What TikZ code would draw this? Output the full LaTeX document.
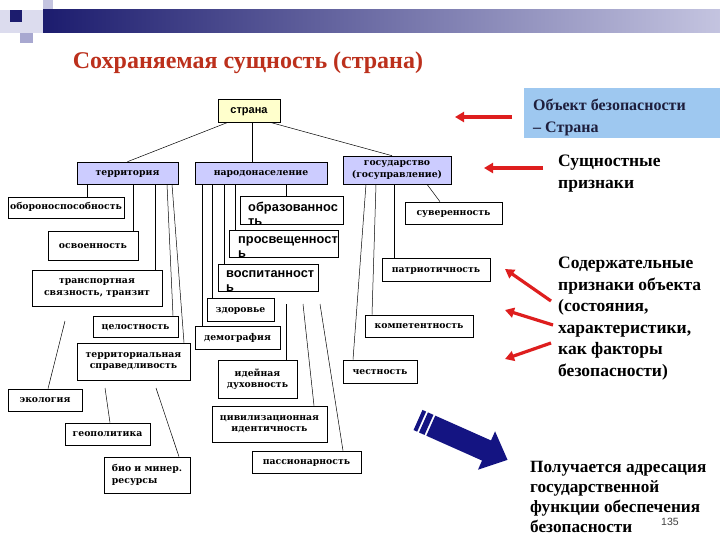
\documentclass[tikz,border=0pt]{standalone}
\usepackage{fontspec}
\setmainfont{Liberation Serif}
\newfontfamily\arialf{Liberation Sans}
\newfontfamily\boxf{DejaVu Serif}
\usetikzlibrary{arrows.meta,calc}
\definecolor{lavblue}{RGB}{204,204,255}
\definecolor{paleyellow}{RGB}{255,255,204}
\definecolor{skyfill}{RGB}{158,200,240}
\definecolor{arrred}{RGB}{222,30,30}
\definecolor{titlered}{RGB}{188,48,28}
\definecolor{navyarr}{RGB}{20,20,130}
\definecolor{headnavy}{RGB}{28,28,110}
\definecolor{headlight}{RGB}{196,196,224}
\definecolor{sqlight}{RGB}{220,220,238}
\definecolor{sqmid}{RGB}{168,168,208}
\definecolor{objtext}{RGB}{30,30,60}
\begin{document}
\begin{tikzpicture}[x=1pt,y=-1pt,
  box/.style={draw=black, line width=0.6pt, fill=white, inner sep=0pt, align=center,
    font=\boxf\bfseries\fontsize{9.3}{11.5}\selectfont},
  sl/.style={text height=5pt, text depth=0pt},
  lav/.style={box, fill=lavblue},
  ylw/.style={box, fill=paleyellow, font=\arialf\bfseries\fontsize{11}{13}\selectfont},
  ovt/.style={inner sep=0pt, align=left, anchor=north west,
    font=\arialf\bfseries\fontsize{12.8}{14}\selectfont},
  conn/.style={line width=0.5pt},
  redarr/.style={draw=arrred, line width=3.2pt, -{Triangle[length=9pt,width=10pt]}},
  sidetxt/.style={inner sep=0pt, align=left, anchor=north west,
    font=\bfseries\fontsize{17.5}{21.5}\selectfont},
  restxt/.style={inner sep=0pt, anchor=base west, font=\bfseries\fontsize{17.2}{20}\selectfont}
]
\useasboundingbox (0,0) rectangle (720,540);
\fill[white] (0,0) rectangle (720,540);

% header decoration
\fill[sqlight] (0,10) rectangle (43,33);
\fill[headlight] (43,0) rectangle (53,10);
\fill[sqmid] (20,33) rectangle (33,43);
\fill[headnavy] (10,10) rectangle (22,22);
\shade[left color=headnavy, right color=headlight] (43,10) rectangle (720,33);

% title
\node[font=\bfseries\fontsize{24}{28}\selectfont, text=titlered] (title) at (248,63)
  {Сохраняемая сущность (страна)};

% tree: top
\node[ylw, sl, text height=6.5pt, minimum width=62pt, minimum height=23pt] (strana) at (249,110.5) {страна};
\node[lav, sl, minimum width=101pt, minimum height=22pt] (terr) at (127.5,173) {территория};
\node[lav, sl, minimum width=132pt, minimum height=22pt] (narod) at (261,173) {народонаселение};
\node[lav, minimum width=108pt, minimum height=28pt] (gos) at (397,170) {государство\\(госуправление)};

% under territory
\node[box, sl, minimum width=116pt, minimum height=21pt] (oboron) at (66,207.5) {обороноспособность};
\node[box, sl, minimum width=90pt, minimum height=29pt] (osvoen) at (93,246) {освоенность};
\node[box, minimum width=130pt, minimum height=36pt] (transp) at (97,288) {транспортная\\связность, транзит};
\node[box, sl, minimum width=85pt, minimum height=21pt] (celost) at (135.5,326.5) {целостность};
\node[box, minimum width=113pt, minimum height=37pt] (terrspr) at (133.5,361.5) {территориальная\\справедливость};
\node[box, sl, minimum width=74pt, minimum height=22pt] (ekol) at (45,400) {экология};
\node[box, sl, minimum width=85pt, minimum height=22pt] (geopol) at (107.5,434) {геополитика};
\node[box, minimum width=86pt, minimum height=36pt, align=left] (bio) at (147,475) {био и минер.\\ресурсы};

% under population
\node[box, minimum width=103pt, minimum height=28pt] (obraz) at (291.5,210) {};
\node[ovt] (obrazT) at (248,202) {образованнос\\ть};
\node[box, minimum width=109pt, minimum height=27pt] (prosv) at (283.5,243.5) {};
\node[ovt] (prosvT) at (238,236) {просвещенност\\ь};
\node[box, minimum width=100pt, minimum height=27pt] (vosp) at (268,277.5) {};
\node[ovt] (vospT) at (226,270) {воспитанност\\ь};
\node[box, sl, minimum width=67pt, minimum height=23pt] (zdor) at (240.5,309.5) {здоровье};
\node[box, sl, minimum width=85pt, minimum height=23pt] (demogr) at (237.5,337.5) {демография};
\node[box, minimum width=79pt, minimum height=38pt] (ideyn) at (257.5,379) {идейная\\духовность};
\node[box, minimum width=115pt, minimum height=36pt] (civil) at (269.5,424) {цивилизационная\\идентичность};
\node[box, sl, minimum width=109pt, minimum height=22pt] (passion) at (306.5,462) {пассионарность};

% under state
\node[box, sl, minimum width=97pt, minimum height=22pt] (suver) at (453.5,213) {суверенность};
\node[box, sl, minimum width=108pt, minimum height=23pt] (patr) at (436,269.5) {патриотичность};
\node[box, sl, minimum width=108pt, minimum height=22pt] (kompet) at (419,326) {компетентность};
\node[box, sl, minimum width=74pt, minimum height=23pt] (chest) at (380,371.5) {честность};

% connectors from strana
\draw[conn] ([xshift=-21pt]strana.south) -- (terr.north);
\draw[conn] ([xshift=3pt]strana.south) -- ([xshift=-9pt]narod.north);
\draw[conn] ([xshift=21pt]strana.south) -- ([xshift=-5pt]gos.north);

% connectors from territory
\draw[conn] ([xshift=-40.5pt]terr.south) -- ([xshift=21pt]oboron.north);
\draw[conn] ([xshift=5.5pt]terr.south) -- ([xshift=40pt]osvoen.north);
\draw[conn] ([xshift=27.5pt]terr.south) -- ([xshift=58pt]transp.north);
\draw[conn] ([xshift=39.5pt]terr.south) -- ([xshift=37.5pt]celost.north);
\draw[conn] ([xshift=44.5pt]terr.south) -- ([xshift=50.5pt]terrspr.north);
\coordinate (e1) at (65,321);
\coordinate (g1) at (105,388);
\coordinate (b1) at (156,388);
\draw[conn] (e1) -- ([xshift=3pt]ekol.north);
\draw[conn] (g1) -- ([xshift=2.5pt]geopol.north);
\draw[conn] (b1) -- ([xshift=32pt]bio.north);

% connectors from population
\draw[conn] ([xshift=25pt]narod.south) -- ([xshift=-5.5pt]obraz.north);
\draw[conn] ([xshift=-26pt]narod.south) -- ([xshift=-48.5pt]prosv.north);
\draw[conn] ([xshift=-37pt]narod.south) -- ([xshift=-44pt]vosp.north);
\draw[conn] ([xshift=-49pt]narod.south) -- ([xshift=-28.5pt]zdor.north);
\draw[conn] ([xshift=-59pt]narod.south) -- ([xshift=-35.5pt]demogr.north);
\coordinate (i1) at (286,304);
\coordinate (c1) at (303,304);
\coordinate (p1) at (320,304);
\draw[conn] (i1) -- ([xshift=28.5pt]ideyn.north);
\draw[conn] (c1) -- ([xshift=44.5pt]civil.north);
\draw[conn] (p1) -- ([xshift=36.5pt]passion.north);

% connectors from state
\draw[conn] ([xshift=30pt]gos.south) -- ([xshift=-13.5pt]suver.north);
\draw[conn] ([xshift=-3pt]gos.south) -- ([xshift=-42pt]patr.north);
\draw[conn] ([xshift=-21pt]gos.south) -- ([xshift=-47pt]kompet.north);
\draw[conn] ([xshift=-31pt]gos.south) -- ([xshift=-27pt]chest.north);

% right side texts
\node[fill=skyfill, minimum width=196pt, minimum height=50pt, inner sep=0pt] (obj) at (622,113) {};
\node[inner sep=0pt, align=left, anchor=north west, text=objtext,
  font=\bfseries\fontsize{16}{22}\selectfont] (objT) at (533,98.5) {Объект безопасности\\– Страна};
\node[sidetxt] (sushch) at (558,155) {Сущностные\\признаки};
\node[sidetxt] (soder) at (558,257) {Содержательные\\признаки объекта\\(состояния,\\характеристики,\\как факторы\\безопасности)};
\node[restxt] (res1) at (530,472) {Получается адресация};
\node[restxt] (res2) at (530,492) {государственной};
\node[restxt] (res3) at (530,512) {функции обеспечения};
\node[restxt] (res4) at (530,532) {безопасности};
\node[font=\arialf\fontsize{10.5}{12}\selectfont, text=black!75, inner sep=0pt, anchor=base] (pnum) at (670,525.5) {135};

% red arrows
\coordinate (a1s) at (512,117); \coordinate (a1e) at (455,117);
\coordinate (a2s) at (543,168); \coordinate (a2e) at (484,168);
\coordinate (a3s) at (551,301); \coordinate (a3e) at (505,269);
\coordinate (a4s) at (553,325); \coordinate (a4e) at (505,310);
\coordinate (a5s) at (551,343); \coordinate (a5e) at (505,359);
\draw[redarr] (a1s) -- (a1e);
\draw[redarr] (a2s) -- (a2e);
\draw[redarr] (a3s) -- (a3e);
\draw[redarr] (a4s) -- (a4e);
\draw[redarr] (a5s) -- (a5e);

% big blue arrow
\begin{scope}[shift={(418,420)}, rotate=-24]
  \fill[navyarr] (0,-11) rectangle (4,11);
  \fill[navyarr] (6,-11) rectangle (12,11);
  \fill[navyarr] (14,-11) -- (75,-11) -- (75,-21) -- (98,0) -- (75,21) -- (75,11) -- (14,11) -- cycle;
\end{scope}
\end{tikzpicture}
\end{document}
